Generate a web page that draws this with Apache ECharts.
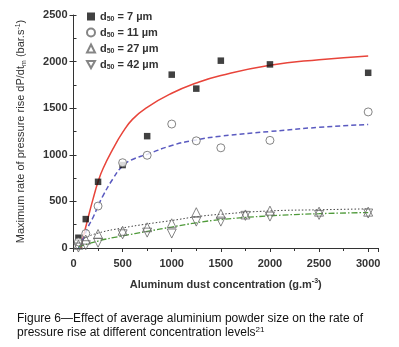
<!DOCTYPE html>
<html>
<head>
<meta charset="utf-8">
<script src="https://cdn.jsdelivr.net/npm/echarts@6/dist/echarts.min.js"></script>
<style>
  html, body { margin: 0; padding: 0; background: #fff; }
  #main { width: 399px; height: 347px; }
</style>
</head>
<body>
<div id="main"></div>
<script>
// measured points (concentration g/m3 -> dP/dt bar/s)
var conc7 = [50, 125, 250, 500, 750, 1000, 1250, 1500, 2000, 3000];
var rate7 = [110, 310, 710, 890, 1200, 1860, 1710, 2010, 1970, 1880];

var conc11 = [50, 125, 250, 500, 750, 1000, 1250, 1500, 2000, 3000];
var rate11 = [65, 155, 450, 915, 995, 1330, 1150, 1075, 1155, 1460];

var conc27 = [50, 125, 250, 500, 750, 1000, 1250, 1500, 1750, 2000, 2500, 3000];
var rate27 = [35, 90, 150, 185, 222, 265, 384, 366, 360, 401, 390, 390];

var conc42 = [50, 125, 250, 500, 750, 1000, 1250, 1500, 1750, 2000, 2500, 3000];
var rate42 = [5, 30, 57, 147, 165, 155, 283, 283, 345, 337, 355, 370];

// fitted curves
var fitX7 = [75, 100, 150, 200, 250, 300, 400, 500, 600, 750, 1000, 1250, 1500, 2000, 2500, 3000];
var fitY7 = [0, 120, 330, 530, 710, 850, 1060, 1240, 1380, 1510, 1660, 1770, 1850, 1960, 2020, 2060];

var fitX11 = [50, 100, 150, 200, 250, 300, 400, 500, 600, 750, 1000, 1250, 1500, 2000, 2500, 3000];
var fitY11 = [0, 100, 230, 330, 450, 560, 740, 880, 950, 1005, 1100, 1160, 1200, 1250, 1295, 1325];

var fitX27 = [50, 100, 250, 500, 750, 1000, 1250, 1500, 2000, 2500, 3000];
var fitY27 = [60, 100, 160, 215, 258, 295, 335, 362, 398, 410, 420];

var fitX42 = [50, 250, 500, 750, 1000, 1250, 1500, 2000, 2500, 3000];
var fitY42 = [10, 75, 130, 178, 225, 270, 305, 345, 368, 380];

var legendNames = ["d50 = 7 \u00b5m", "d50 = 11 \u00b5m", "d50 = 27 \u00b5m", "d50 = 42 \u00b5m"];

function zip(xs, ys) {
  return xs.map(function (x, i) { return [x, ys[i]]; });
}

var myChart = echarts.init(document.getElementById("main"));

var subRich = {
  sub: { fontSize: 7, fontWeight: "bold", color: "#333", verticalAlign: "bottom", padding: [6, 0, 0, 0] }
};

var option = {
  backgroundColor: "#fff",
  animation: false,
  textStyle: { fontFamily: "Liberation Sans, Arial, sans-serif" },
  title: {
    text: "Figure 6\u2014Effect of average aluminium powder size on the rate of\npressure rise at different concentration levels{sup|21}",
    left: 12,
    top: 307,
    textStyle: {
      fontSize: 12,
      fontWeight: "normal",
      color: "#111",
      lineHeight: 14,
      rich: {
        sup: { fontSize: 8, color: "#111", verticalAlign: "top", padding: [0, 0, 6, 0] }
      }
    }
  },
  grid: { left: 73.5, right: 21, top: 15, bottom: 99, containLabel: false },
  legend: {
    orient: "vertical",
    left: 81,
    top: 6,
    itemWidth: 8,
    itemHeight: 8,
    itemGap: 4,
    itemTextGap: 11,
    selectedMode: false,
    data: [
      { name: legendNames[0] },
      { name: legendNames[1] },
      { name: legendNames[2] },
      { name: legendNames[3], icon: "path://M0,0 L10,0 L5,9 Z" }
    ],
    formatter: function (name) {
      return name.replace("d50", "d{sub|50}");
    },
    textStyle: { fontSize: 11, fontWeight: "bold", color: "#333", rich: subRich }
  },
  xAxis: {
    type: "value",
    min: 0,
    max: 3100,
    interval: 500,
    offset: 4,
    name: "Aluminum dust concentration (g.m{sup|-3})",
    nameLocation: "middle",
    nameGap: 26,
    nameTextStyle: {
      fontSize: 11,
      fontWeight: "bold",
      color: "#333",
      rich: { sup: { fontSize: 7, fontWeight: "bold", color: "#333", verticalAlign: "top", padding: [0, 0, 6, 0] } }
    },
    axisLine: { show: true, lineStyle: { color: "#333", width: 1 } },
    axisTick: { show: true, length: 4, lineStyle: { color: "#333" } },
    minorTick: { show: true, splitNumber: 2, length: 3, lineStyle: { color: "#333" } },
    splitLine: { show: false },
    axisLabel: {
      fontSize: 11, fontWeight: "bold", color: "#333", margin: 6,
      formatter: function (v) { return String(v); }
    }
  },
  yAxis: [
    {
      type: "value",
      min: 0,
      max: 2500,
      interval: 500,
      name: "Maximum rate of pressure rise dP/dt{sub|m} (bar.s{sup|-1})",
      nameLocation: "middle",
      nameGap: 46,
      nameTextStyle: {
        fontSize: 11,
        color: "#333",
        rich: {
          sub: { fontSize: 7, color: "#333", verticalAlign: "bottom", padding: [6, 0, 0, 0] },
          sup: { fontSize: 7, color: "#333", verticalAlign: "top", padding: [0, 0, 6, 0] }
        }
      },
      axisLine: { show: true, lineStyle: { color: "#333", width: 1 } },
      axisTick: { show: true, length: 4, lineStyle: { color: "#333" } },
      splitLine: { show: false },
      axisLabel: {
        fontSize: 11, fontWeight: "bold", color: "#333", margin: 6,
        formatter: function (v) { return String(v); }
      }
    },
    {
      // inner minor ticks
      type: "value",
      position: "left",
      min: 0,
      max: 2500,
      interval: 250,
      axisLine: { show: false },
      axisTick: { show: true, inside: true, length: 3, lineStyle: { color: "#333" } },
      axisLabel: { show: false },
      splitLine: { show: false }
    }
  ],
  series: [
    {
      name: "fit7", type: "line", smooth: true, showSymbol: false, symbol: "none",
      lineStyle: { color: "#e8443a", width: 1.5, type: "solid" },
      data: zip(fitX7, fitY7), z: 1
    },
    {
      name: "fit11", type: "line", smooth: true, showSymbol: false, symbol: "none",
      lineStyle: { color: "#5a5ac0", width: 1.5, type: [5, 3] },
      data: zip(fitX11, fitY11), z: 1
    },
    {
      name: "fit27", type: "line", smooth: true, showSymbol: false, symbol: "none",
      lineStyle: { color: "#444", width: 1, type: [1.5, 2] },
      data: zip(fitX27, fitY27), z: 1
    },
    {
      name: "fit42", type: "line", smooth: true, showSymbol: false, symbol: "none",
      lineStyle: { color: "#4f9a3a", width: 1.3, type: [6, 2, 1.5, 2] },
      data: zip(fitX42, fitY42), z: 1
    },
    {
      name: legendNames[0], type: "scatter", symbol: "rect", symbolSize: 6.5,
      itemStyle: { color: "#111" },
      data: zip(conc7, rate7), z: 3
    },
    {
      name: legendNames[1], type: "scatter", symbol: "circle", symbolSize: 8,
      itemStyle: { color: "#fff", borderColor: "#666", borderWidth: 1 },
      data: zip(conc11, rate11), z: 3
    },
    {
      name: legendNames[2], type: "scatter", symbol: "triangle", symbolSize: 9,
      itemStyle: { color: "rgba(255,255,255,0)", borderColor: "#666", borderWidth: 1 },
      data: zip(conc27, rate27), z: 3
    },
    {
      name: legendNames[3], type: "scatter", symbol: "triangle", symbolSize: 9, symbolRotate: 180,
      itemStyle: { color: "rgba(255,255,255,0)", borderColor: "#666", borderWidth: 1 },
      data: zip(conc42, rate42), z: 3
    }
  ]
};

myChart.setOption(option, true);
</script>
</body>
</html>
